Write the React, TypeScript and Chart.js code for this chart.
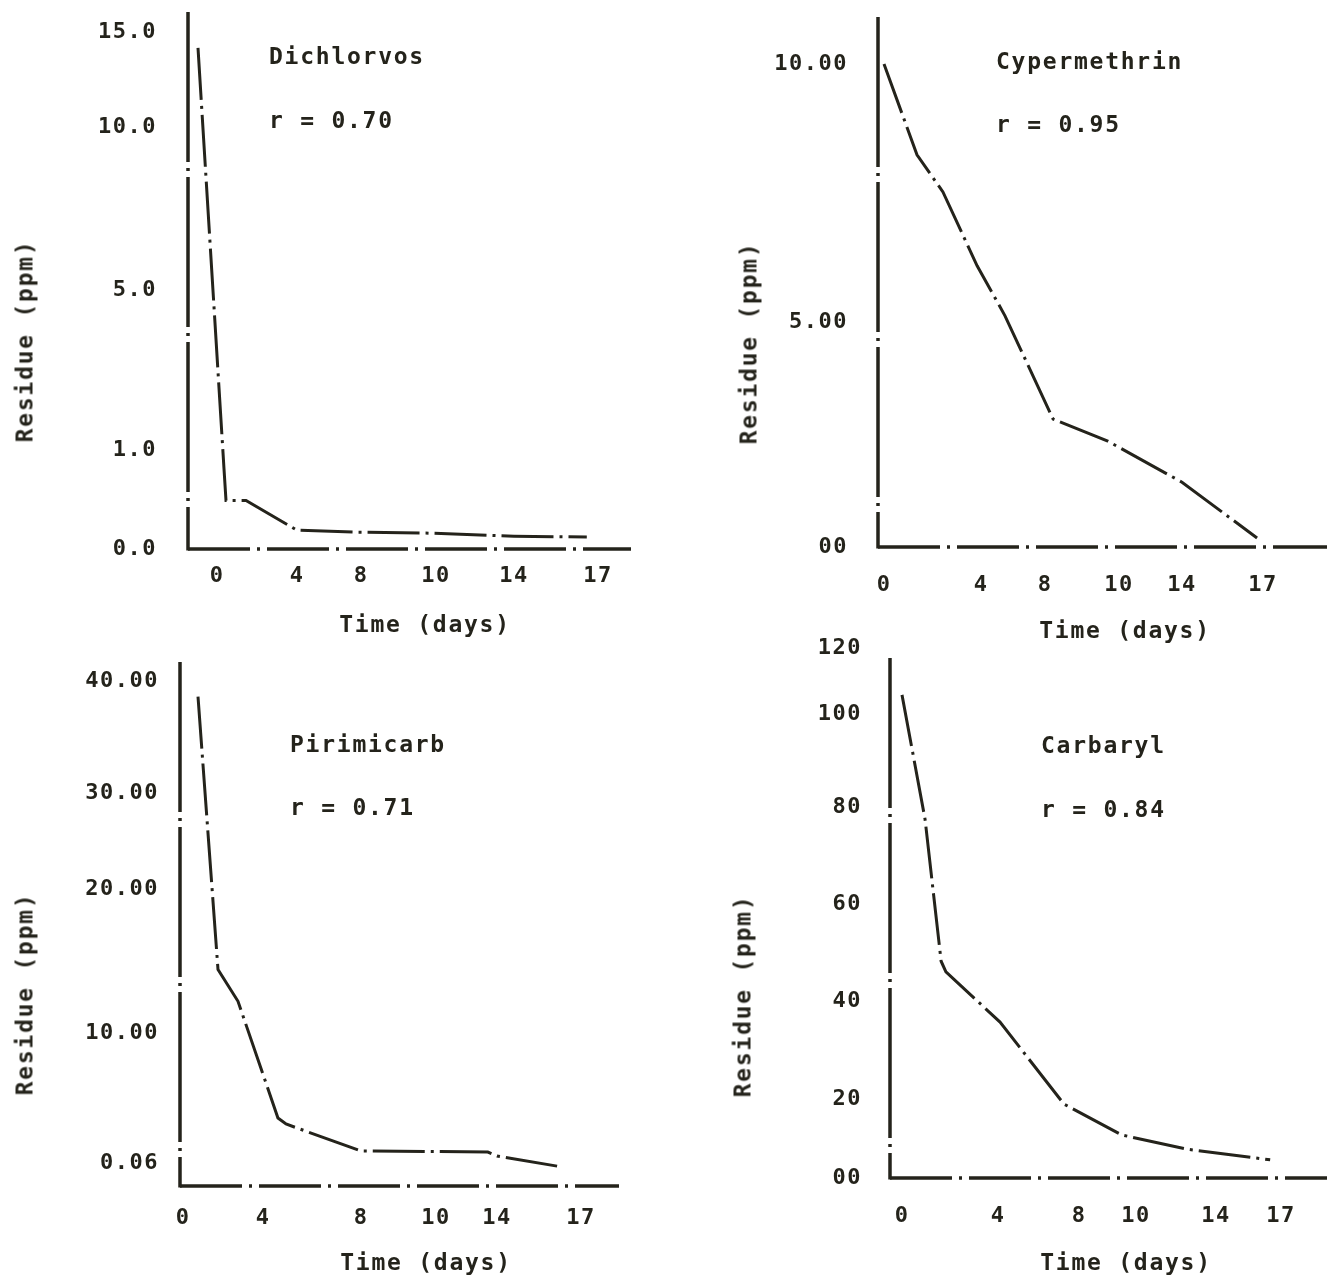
import React, { useEffect, useRef } from 'react';
import { Chart, registerables, LinearScale } from 'chart.js';

// ---------------- DATA ----------------
const DAY_TICKS = [0, 4, 8, 10, 14, 17];
const DAY_TICK_LABELS = ['0', '4', '8', '10', '14', '17'];

const DICHLORVOS_DAYS = [-0.95, 0.35, 0.45, 1.45, 4, 7.8, 9.8, 14, 16.6];
const DICHLORVOS_RESIDUE = [14.16, 0.81, 0.49, 0.49, 0.19, 0.17, 0.16, 0.13, 0.12];
const DICHLORVOS_Y_TICKS = [0, 1, 5, 10, 15];
const DICHLORVOS_Y_LABELS = ['0.0', '1.0', '5.0', '10.0', '15.0'];

const CYPERMETHRIN_DAYS = [0, 1.36, 2.43, 3.84, 5.5, 8.22, 9.68, 14, 16.78];
const CYPERMETHRIN_RESIDUE = [10.0, 8.24, 7.52, 6.09, 5.12, 2.84, 2.36, 1.44, 0.2];
const CYPERMETHRIN_Y_TICKS = [0, 5, 10];
const CYPERMETHRIN_Y_LABELS = ['00', '5.00', '10.00'];

const PIRIMICARB_DAYS = [0.75, 1.75, 2.75, 4.61, 4.94, 8, 13.4, 14, 16.3];
const PIRIMICARB_RESIDUE = [38.6, 14.4, 12.2, 3.5, 3.04, 0.98, 0.9, 0.6, 0.05];
const PIRIMICARB_Y_TICKS = [0.06, 10, 20, 30, 40];
const PIRIMICARB_Y_LABELS = ['0.06', '10.00', '20.00', '30.00', '40.00'];

const CARBARYL_DAYS = [0, 0.96, 1.63, 1.83, 4.1, 7.26, 9.5, 12.55, 16.5];
const CARBARYL_RESIDUE = [105.8, 77.5, 48.2, 46.0, 35.7, 18.7, 10.9, 7.3, 4.6];
const CARBARYL_Y_TICKS = [0, 20, 40, 60, 80, 100, 120];
const CARBARYL_Y_LABELS = ['00', '20', '40', '60', '80', '100', '120'];

// ---------------- LAYOUT (axis calibration of the hand-drawn scales, page pixels) ----------------
const INK = '#24231b';
const FONT = '"DejaVu Sans Mono", "Liberation Mono", monospace';

type PanelLayout = {
  canvas: { left: number; top: number; width: number; height: number };
  area: { left: number; top: number; right: number; bottom: number };
  xStopValues: number[]; xStopPx: number[];
  yStopValues: number[]; yStopPx: number[];
  yTickPad: number;
  xTickPad: number;
};

const LAYOUTS: PanelLayout[] = [
  {
    canvas: { left: 0, top: 0, width: 660, height: 640 },
    area: { left: 188, top: 12, right: 631, bottom: 549 },
    xStopValues: DAY_TICKS, xStopPx: [217, 297, 361, 436, 514, 598],
    yStopValues: [0, 1, 5, 10, 15], yStopPx: [549, 450, 290, 127, 32],
    yTickPad: 31, xTickPad: 14,
  },
  {
    canvas: { left: 660, top: 0, width: 700, height: 640 },
    area: { left: 878, top: 17, right: 1327, bottom: 547 },
    xStopValues: DAY_TICKS, xStopPx: [884, 981, 1045, 1119, 1182, 1263],
    yStopValues: [0, 5, 10], yStopPx: [547, 322, 64],
    yTickPad: 30, xTickPad: 25,
  },
  {
    canvas: { left: 0, top: 640, width: 660, height: 638 },
    area: { left: 180, top: 662, right: 619, bottom: 1186 },
    xStopValues: DAY_TICKS, xStopPx: [183, 263, 361, 436, 497, 581],
    yStopValues: [0, 0.06, 10, 20, 30, 40], yStopPx: [1186, 1163, 1033, 889, 793, 681],
    yTickPad: 21, xTickPad: 19,
  },
  {
    canvas: { left: 660, top: 615, width: 700, height: 663 },
    area: { left: 890, top: 658, right: 1327, bottom: 1178 },
    xStopValues: DAY_TICKS, xStopPx: [902, 998, 1079, 1136, 1216, 1281],
    yStopValues: [0, 20, 40, 60, 80, 100, 120], yStopPx: [1178, 1099, 1001, 904, 807, 714, 648],
    yTickPad: 28, xTickPad: 25,
  },
];

const SERIES = [
  { days: DICHLORVOS_DAYS, residue: DICHLORVOS_RESIDUE, yTicks: DICHLORVOS_Y_TICKS, yLabels: DICHLORVOS_Y_LABELS },
  { days: CYPERMETHRIN_DAYS, residue: CYPERMETHRIN_RESIDUE, yTicks: CYPERMETHRIN_Y_TICKS, yLabels: CYPERMETHRIN_Y_LABELS },
  { days: PIRIMICARB_DAYS, residue: PIRIMICARB_RESIDUE, yTicks: PIRIMICARB_Y_TICKS, yLabels: PIRIMICARB_Y_LABELS },
  { days: CARBARYL_DAYS, residue: CARBARYL_RESIDUE, yTicks: CARBARYL_Y_TICKS, yLabels: CARBARYL_Y_LABELS },
];

type Label = { text: string; x: number; y: number; mode: 'left' | 'center' | 'rotated' };
const LABELS: Label[] = [
  { text: 'Dichlorvos', x: 269, y: 56, mode: 'left' },
  { text: 'r = 0.70', x: 269, y: 120, mode: 'left' },
  { text: 'Time (days)', x: 425, y: 624, mode: 'center' },
  { text: 'Residue (ppm)', x: 25, y: 341, mode: 'rotated' },
  { text: 'Cypermethrin', x: 996, y: 61, mode: 'left' },
  { text: 'r = 0.95', x: 996, y: 124, mode: 'left' },
  { text: 'Time (days)', x: 1125, y: 630, mode: 'center' },
  { text: 'Residue (ppm)', x: 749, y: 343, mode: 'rotated' },
  { text: 'Pirimicarb', x: 290, y: 744, mode: 'left' },
  { text: 'r = 0.71', x: 290, y: 807, mode: 'left' },
  { text: 'Time (days)', x: 426, y: 1262, mode: 'center' },
  { text: 'Residue (ppm)', x: 25, y: 994, mode: 'rotated' },
  { text: 'Carbaryl', x: 1041, y: 745, mode: 'left' },
  { text: 'r = 0.84', x: 1041, y: 809, mode: 'left' },
  { text: 'Time (days)', x: 1126, y: 1262, mode: 'center' },
  { text: 'Residue (ppm)', x: 743, y: 996, mode: 'rotated' },
];

// ---------------- piecewise-linear scale (the printed axes are not uniform) ----------------
function interp(xs: number[], ys: number[], v: number): number {
  const n = xs.length;
  let i = 0;
  if (v <= xs[0]) i = 0;
  else if (v >= xs[n - 1]) i = n - 2;
  else { while (i < n - 2 && v > xs[i + 1]) i++; }
  const t = (v - xs[i]) / (xs[i + 1] - xs[i]);
  return ys[i] + t * (ys[i + 1] - ys[i]);
}

class PiecewiseScale extends (LinearScale as any) {
  static id = 'piecewise';
  determineDataLimits() {
    const o: any = this.options;
    this.min = interp(o.stopFracs, o.stops, 0);
    this.max = interp(o.stopFracs, o.stops, 1);
  }
  buildTicks() {
    const o: any = this.options;
    return o.tickValues.map((v: number) => ({ value: v }));
  }
  getPixelForValue(value: any) {
    if (value === null || value === undefined || isNaN(value)) return NaN;
    const o: any = this.options;
    return this.getPixelForDecimal(interp(o.stops, o.stopFracs, value));
  }
  getValueForPixel(pixel: number) {
    const o: any = this.options;
    return interp(o.stopFracs, o.stops, this.getDecimalForPixel(pixel));
  }
}

Chart.register(...registerables, PiecewiseScale as any);

const spacingPlugin = {
  id: 'typewriterSpacing',
  beforeDraw(chart: any) {
    try { chart.ctx.letterSpacing = '1.5px'; } catch (e) { /* ignore */ }
  },
};

// dash-dot axis lines like the original typewriter/plotter drawing
const axisLinePlugin = {
  id: 'dashDotAxes',
  afterDatasetsDraw(chart: any) {
    const { ctx, chartArea } = chart;
    if (!chartArea) return;
    ctx.save();
    ctx.strokeStyle = INK;
    ctx.lineWidth = 3.5;
    ctx.lineCap = 'butt';
    // x baseline
    ctx.setLineDash([62, 7, 3, 7]);
    ctx.beginPath();
    ctx.moveTo(chartArea.left, chartArea.bottom);
    ctx.lineTo(chartArea.right, chartArea.bottom);
    ctx.stroke();
    // y axis
    ctx.setLineDash([150, 6, 3, 6]);
    ctx.beginPath();
    ctx.moveTo(chartArea.left, chartArea.top);
    ctx.lineTo(chartArea.left, chartArea.bottom + 1.5);
    ctx.stroke();
    ctx.restore();
  },
};

function zeroPadding(s: any) {
  s.paddingTop = 0; s.paddingBottom = 0; s.paddingLeft = 0; s.paddingRight = 0;
}

function Panel({ idx }: { idx: number }) {
  const ref = useRef<HTMLCanvasElement>(null);
  const L = LAYOUTS[idx];
  const S = SERIES[idx];
  useEffect(() => {
    if (!ref.current) return;
    const c = L.canvas;
    const a = L.area;
    const xFracs = L.xStopPx.map((p) => (p - a.left) / (a.right - a.left));
    const yFracs = L.yStopPx.map((p) => (a.bottom - p) / (a.bottom - a.top));
    const tickFont = { family: FONT, size: 22, weight: 'bold' };
    const chart = new Chart(ref.current, {
      type: 'line',
      data: {
        datasets: [
          {
            data: S.days.map((d, i) => ({ x: d, y: S.residue[i] })),
            borderColor: INK,
            borderWidth: 3,
            borderDash: [52, 6, 3, 6],
            pointRadius: 0,
            tension: 0,
            fill: false,
          },
        ],
      },
      options: {
        animation: false,
        responsive: false,
        devicePixelRatio: 1,
        layout: {
          padding: { left: 0, bottom: 0, top: a.top - c.top, right: c.left + c.width - a.right },
        },
        plugins: { legend: { display: false }, tooltip: { enabled: false } },
        scales: {
          x: {
            type: 'piecewise',
            position: 'bottom',
            stops: L.xStopValues,
            stopFracs: xFracs,
            tickValues: DAY_TICKS,
            afterFit: (s: any) => { s.height = c.top + c.height - a.bottom; zeroPadding(s); },
            grid: { display: false, drawTicks: false, tickLength: 0 },
            border: { display: false },
            ticks: {
              autoSkip: false, maxRotation: 0, padding: L.xTickPad, color: INK, font: tickFont,
              callback: (_v: any, i: number) => DAY_TICK_LABELS[i],
            },
          },
          y: {
            type: 'piecewise',
            position: 'left',
            stops: L.yStopValues,
            stopFracs: yFracs,
            tickValues: S.yTicks,
            afterFit: (s: any) => { s.width = a.left - c.left; zeroPadding(s); },
            grid: { display: false, drawTicks: false, tickLength: 0 },
            border: { display: false },
            ticks: {
              autoSkip: false, padding: L.yTickPad, color: INK, font: tickFont,
              callback: (_v: any, i: number) => S.yLabels[i],
            },
          },
        } as any,
      },
      plugins: [spacingPlugin, axisLinePlugin],
    } as any);
    return () => chart.destroy();
  }, []);
  const c = L.canvas;
  return (
    <canvas
      ref={ref}
      width={c.width}
      height={c.height}
      style={{ position: 'absolute', left: c.left, top: c.top, width: c.width, height: c.height }}
    />
  );
}

function TextLabel({ l }: { l: Label }) {
  const base: React.CSSProperties = {
    position: 'absolute',
    left: l.x,
    top: l.y,
    fontFamily: FONT,
    fontSize: 23,
    fontWeight: 'bold',
    letterSpacing: '1.75px',
    color: INK,
    whiteSpace: 'nowrap',
    lineHeight: 1,
  };
  if (l.mode === 'left') base.transform = 'translateY(-50%)';
  else if (l.mode === 'center') base.transform = 'translate(-50%, -50%)';
  else base.transform = 'translate(-50%, -50%) rotate(-90deg)';
  return <div style={base}>{l.text}</div>;
}

export default function App() {
  return (
    <div
      style={{
        position: 'absolute', left: 0, top: 0, width: 1327, height: 1278,
        overflow: 'hidden', background: '#ffffff',
      }}
    >
      {LAYOUTS.map((_, i) => <Panel key={i} idx={i} />)}
      {LABELS.map((l, i) => <TextLabel key={i} l={l} />)}
    </div>
  );
}
